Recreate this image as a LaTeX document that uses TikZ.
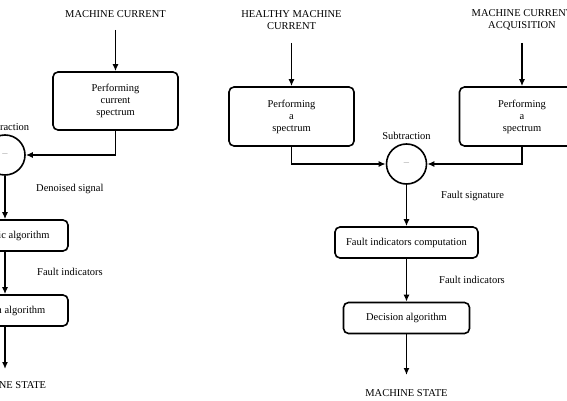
\documentclass[tikz,border=0pt]{standalone}
\usepackage{fontspec}
\setmainfont{Liberation Serif}
\usetikzlibrary{arrows.meta}
\begin{document}
\begin{tikzpicture}[x=1pt,y=-1pt,
  every node/.style={font=\fontsize{10.5}{12}\selectfont},
  blk/.style={draw, line width=1.6pt, rounded corners=5pt, align=center, inner sep=0pt},
  sumc/.style={draw, circle, line width=1.6pt, minimum size=40pt, inner sep=0pt},
  lbl/.style={align=center, inner sep=0pt},
  conn/.style={line width=1.6pt, -{Latex[length=7pt,width=6pt]}},
  minus/.style={text=gray!70}
]
\useasboundingbox (0,0) rectangle (567,401);
\clip (0,0) rectangle (567,401);

% ---------- left diagram ----------
\node[lbl] (inL) at (115.5,14) {MACHINE CURRENT};
\coordinate (inLs) at (115.5,30);
\node[blk, minimum width=125pt, minimum height=58pt] (pcs) at (115.5,101) {Performing\\current\\spectrum};
\draw[conn] (inLs) -- (pcs.north);
\node[sumc] (subL) at (5,155) {};
\node[minus] (mL) at (subL.center) {--};
\node[lbl] (subLl) at (5,127) {Subtraction};
\draw[conn] (pcs.south) |- (subL.east);
\node[blk, minimum width=126pt, minimum height=31pt] (diag) at (5,235.5) {Diagnostic algorithm};
\draw[conn] (subL.south) -- (diag.north);
\node[lbl, anchor=west] (dsl) at (36,189) {Denoised signal};
\node[blk, minimum width=126pt, minimum height=31pt] (decL) at (5,310.5) {Decision algorithm};
\draw[conn] (diag.south) -- (decL.north);
\node[lbl, anchor=west] (fil) at (37,272) {Fault indicators};
\coordinate (outL) at (5,369);
\draw[conn] (decL.south) -- (outL);
\node[lbl] (stL) at (5,385) {MACHINE STATE};

% ---------- right diagram ----------
\node[lbl] (inH) at (291.5,20) {HEALTHY MACHINE\\CURRENT};
\coordinate (inHs) at (291.5,43);
\node[blk, minimum width=125pt, minimum height=59pt] (psH) at (291.5,116.5) {Performing\\a\\spectrum};
\draw[conn] (inHs) -- (psH.north);

\node[lbl] (inA) at (522,20) {MACHINE CURRENT\\ACQUISITION};
\coordinate (inAs) at (522,43);
\node[blk, minimum width=125pt, minimum height=59pt] (psA) at (522,116.5) {Performing\\a\\spectrum};
\draw[conn] (inAs) -- (psA.north);

\node[sumc] (subR) at (406.5,164) {};
\node[minus] (mR) at (subR.center) {--};
\node[lbl] (subRl) at (406.5,136) {Subtraction};
\draw[conn] (psH.south) |- (subR.west);
\draw[conn] (psA.south) |- (subR.east);

\node[blk, minimum width=143pt, minimum height=31pt] (fic) at (406.5,242.5) {Fault indicators computation};
\draw[conn] (subR.south) -- (fic.north);
\node[lbl, anchor=west] (fsl) at (441,196) {Fault signature};
\node[blk, minimum width=126pt, minimum height=31pt] (decR) at (406.5,318) {Decision algorithm};
\draw[conn] (fic.south) -- (decR.north);
\node[lbl, anchor=west] (fir) at (439,280) {Fault indicators};
\coordinate (outR) at (406.5,375);
\draw[conn] (decR.south) -- (outR);
\node[lbl] (stR) at (406.5,393) {MACHINE STATE};
\end{tikzpicture}
\end{document}
